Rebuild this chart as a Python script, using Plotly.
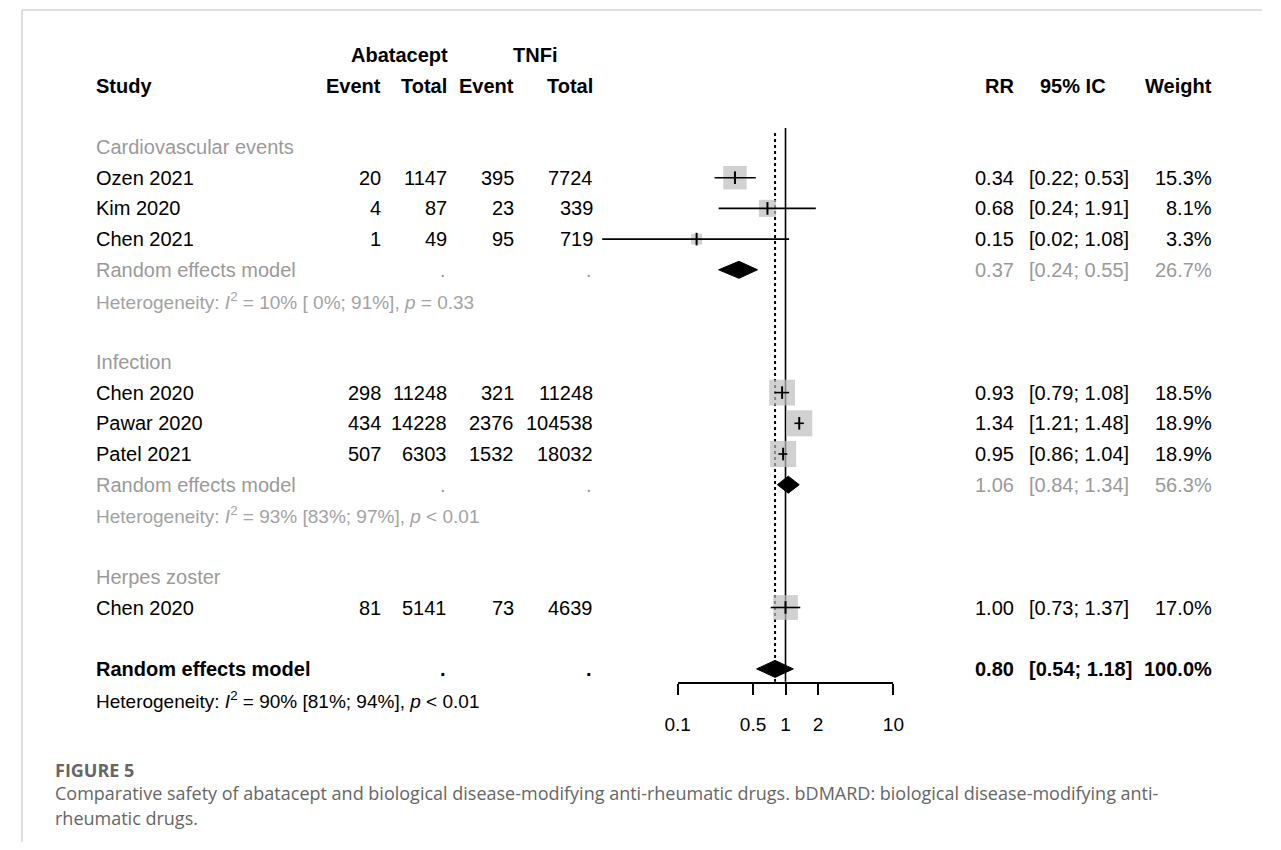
import math
import plotly.graph_objects as go

# page body has an 8px margin; keep the figure inside the 1281x850 window
OFF = 8
FW, FH = 1265, 834

# ---------------- data ----------------
study_names = ["Ozen 2021", "Kim 2020", "Chen 2021", "Chen 2020", "Pawar 2020", "Patel 2021", "Chen 2020"]
study_rows = [4, 5, 6, 11, 12, 13, 18]
ev_aba = [20, 4, 1, 298, 434, 507, 81]
tot_aba = [1147, 87, 49, 11248, 14228, 6303, 5141]
ev_tnf = [395, 23, 95, 321, 2376, 1532, 73]
tot_tnf = [7724, 339, 719, 11248, 104538, 18032, 4639]
rr = [0.34, 0.68, 0.15, 0.93, 1.34, 0.95, 1.00]
ci_lo = [0.22, 0.24, 0.02, 0.79, 1.21, 0.86, 0.73]
ci_hi = [0.53, 1.91, 1.08, 1.08, 1.48, 1.04, 1.37]
weight = [15.3, 8.1, 3.3, 18.5, 18.9, 18.9, 17.0]

subgroup_names = ["Cardiovascular events", "Infection", "Herpes zoster"]
subgroup_rows = [3, 10, 17]

pooled_rows = [7, 14, 20]
pooled_rr = [0.37, 1.06, 0.80]
pooled_lo = [0.24, 0.84, 0.54]
pooled_hi = [0.55, 1.34, 1.18]
pooled_weight = [26.7, 56.3, 100.0]

het_rows = [8, 15, 21]
het_text = [
    "Heterogeneity: <i>I</i><sup>2</sup> = 10% [ 0%; 91%], <i>p</i> = 0.33",
    "Heterogeneity: <i>I</i><sup>2</sup> = 93% [83%; 97%], <i>p</i> &lt; 0.01",
    "Heterogeneity: <i>I</i><sup>2</sup> = 90% [81%; 94%], <i>p</i> &lt; 0.01",
]

tick_vals = [0.1, 0.5, 1, 2, 10]
tick_text = ["0.1", "0.5", "1", "2", "10"]
overall_rr = pooled_rr[-1]

caption_title = "FIGURE 5"
caption_lines = [
    "Comparative safety of abatacept and biological disease-modifying anti-rheumatic drugs. bDMARD: biological disease-modifying anti-",
    "rheumatic drugs.",
]

# ---------------- geometry helpers (reference window pixels) ----------------
X01 = 677.3          # window pixel of 0.1
PX_DEC = 110.0       # pixels per decade
ROW0 = 147 - 3 * 30.7
ROWH = 30.7


def px(xpix):
    return (xpix - OFF) / FW


def py(ypix):
    return 1 - (ypix - OFF) / FH


def row_of_pixel(ypix):
    return (ypix - ROW0) / ROWH


x_range = [-1 - (X01 - OFF) / PX_DEC, -1 + (OFF + FW - X01) / PX_DEC]
y_range = [row_of_pixel(OFF + FH), row_of_pixel(OFF)]

FONT = "Liberation Sans, Arial, Helvetica, sans-serif"
BLACK = "#000000"
GRAY = "#9a9a9a"
HGRAY = "#a3a3a3"
FS = 20

fig = go.Figure()

axis_row = row_of_pixel(681.7)
# reference lines
fig.add_trace(go.Scatter(x=[1, 1], y=[row_of_pixel(128), axis_row], mode="lines",
                         line=dict(color=BLACK, width=1.6), hoverinfo="skip", showlegend=False))
fig.add_trace(go.Scatter(x=[overall_rr, overall_rr], y=[row_of_pixel(133), axis_row], mode="lines",
                         line=dict(color=BLACK, width=2, dash="dot"), hoverinfo="skip", showlegend=False))

# squares
fig.add_trace(go.Scatter(x=rr, y=study_rows, mode="markers",
                         marker=dict(symbol="square", color="#bdbdbd",
                                     size=[6.0 * math.sqrt(w) for w in weight],
                                     line=dict(width=0)),
                         hoverinfo="skip", showlegend=False))

# CI lines
cx, cy = [], []
for lo, hi, r in zip(ci_lo, ci_hi, study_rows):
    cx += [lo, hi, None]
    cy += [r, r, None]
fig.add_trace(go.Scatter(x=cx, y=cy, mode="lines", line=dict(color=BLACK, width=1.6),
                         hoverinfo="skip", showlegend=False))
# point estimate ticks
fig.add_trace(go.Scatter(x=rr, y=study_rows, mode="markers",
                         marker=dict(symbol="line-ns", size=9, line=dict(color=BLACK, width=2)),
                         hoverinfo="skip", showlegend=False))

# diamonds
HD = 8.5 / ROWH
for lo, m, hi, r in zip(pooled_lo, pooled_rr, pooled_hi, pooled_rows):
    fig.add_trace(go.Scatter(x=[lo, m, hi, m, lo], y=[r, r - HD, r, r + HD, r], mode="lines",
                             fill="toself", fillcolor=BLACK, line=dict(color=BLACK, width=1),
                             hoverinfo="skip", showlegend=False))

# helper trace for the bottom axis
fig.add_trace(go.Scatter(x=[1], y=[0.5], xaxis="x2", yaxis="y2", mode="markers",
                         marker=dict(opacity=0), hoverinfo="skip", showlegend=False))

ann = []


def txt(x, row, s, anchor="left", color=BLACK, size=FS, bold=False):
    if bold:
        s = "<b>" + s + "</b>"
    ann.append(dict(x=px(x), y=row, xref="paper", yref="y", text=s, showarrow=False,
                    xanchor=anchor, yanchor="middle",
                    font=dict(family=FONT, size=size, color=color)))


# headers
txt(393.5, 0, "Abatacept", "center", bold=True)
txt(532, 0, "TNFi", "center", bold=True)
txt(82, 1, "Study", bold=True)
txt(377, 1, "Event", "right", bold=True)
txt(444, 1, "Total", "right", bold=True)
txt(513, 1, "Event", "right", bold=True)
txt(593, 1, "Total", "right", bold=True)
txt(1022, 1, "RR", "right", bold=True)
txt(1080, 1, "95% IC", "center", bold=True)
txt(1224, 1, "Weight", "right", bold=True)

for name, r in zip(subgroup_names, subgroup_rows):
    txt(82, r, name, color=GRAY)

for i, r in enumerate(study_rows):
    txt(82, r, study_names[i])
    txt(377, r, str(ev_aba[i]), "right")
    txt(444, r, str(tot_aba[i]), "right")
    txt(513, r, str(ev_tnf[i]), "right")
    txt(593, r, str(tot_tnf[i]), "right")
    txt(1022, r, f"{rr[i]:.2f}", "right")
    txt(1033, r, f"[{ci_lo[i]:.2f}; {ci_hi[i]:.2f}]", "left")
    txt(1224, r, f"{weight[i]:.1f}%", "right")

for k, r in enumerate(pooled_rows):
    last = k == len(pooled_rows) - 1
    col = BLACK if last else GRAY
    txt(82, r, "Random effects model", color=col, bold=last)
    txt(443, r, ".", "right", color=col, bold=last)
    txt(592, r, ".", "right", color=col, bold=last)
    txt(1022, r, f"{pooled_rr[k]:.2f}", "right", color=col, bold=last)
    txt(1033, r, f"[{pooled_lo[k]:.2f}; {pooled_hi[k]:.2f}]", "left", color=col, bold=last)
    txt(1224, r, f"{pooled_weight[k]:.1f}%", "right", color=col, bold=last)

for k, r in enumerate(het_rows):
    last = k == len(het_rows) - 1
    txt(82, r, het_text[k], color=BLACK if last else HGRAY, size=19)

# caption (paper coordinates)
CAP_FONT = "Open Sans, Noto Sans, sans-serif"
ann.append(dict(x=px(41), y=py(770), xref="paper", yref="paper", text="<b>" + caption_title + "</b>",
                showarrow=False, xanchor="left", yanchor="middle",
                font=dict(family=CAP_FONT, size=18, color="#666666")))
for i, line in enumerate(caption_lines):
    ann.append(dict(x=px(41), y=py(793 + 25 * i), xref="paper", yref="paper", text=line,
                    showarrow=False, xanchor="left", yanchor="middle",
                    font=dict(family=CAP_FONT, size=18, color="#666666")))

shapes = [
    dict(type="line", xref="paper", yref="paper", x0=px(9), x1=1, y0=py(10), y1=py(10),
         line=dict(color="#d4d4d4", width=1.5)),
    dict(type="line", xref="paper", yref="paper", x0=px(9), x1=px(9), y0=py(10), y1=0,
         line=dict(color="#d4d4d4", width=1.5)),
]

fig.update_layout(
    width=FW, height=FH, margin=dict(l=0, r=0, t=0, b=0),
    paper_bgcolor="white", plot_bgcolor="rgba(0,0,0,0)",
    showlegend=False,
    xaxis=dict(type="log", range=x_range, domain=[0, 1], visible=False, fixedrange=True),
    yaxis=dict(range=y_range, domain=[0, 1], visible=False, fixedrange=True),
    xaxis2=dict(type="log", range=[-1, 1], domain=[px(X01), px(X01 + 2 * PX_DEC)], anchor="y2",
                tickvals=tick_vals, ticktext=tick_text, showline=True, linecolor=BLACK, linewidth=1.6,
                ticks="outside", ticklen=11, tickwidth=1.6, tickcolor=BLACK, showgrid=False,
                zeroline=False, ticklabelstandoff=14,
                tickfont=dict(family=FONT, size=19, color=BLACK)),
    yaxis2=dict(range=[0, 1], domain=[py(681.7), py(681.7) + 0.1], anchor="x2", visible=False),
    annotations=ann, shapes=shapes,
)

fig.write_html("out.html")
